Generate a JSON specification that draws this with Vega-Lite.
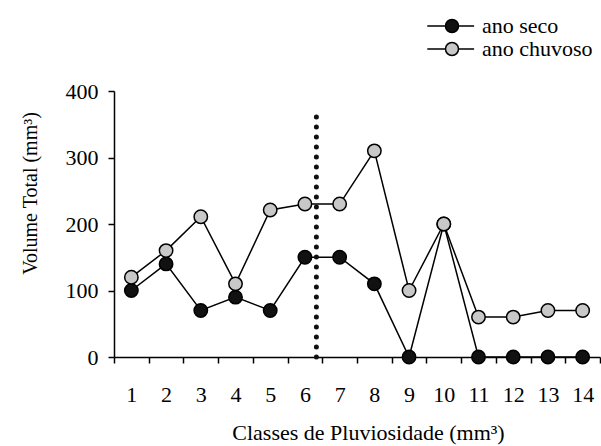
{
  "$schema": "https://vega.github.io/schema/vega-lite/v6.json",
  "width": 486,
  "height": 266,
  "autosize": {"type": "none"},
  "padding": {"left": 114, "top": 91, "right": 1, "bottom": 89},
  "background": "white",
  "config": {
    "view": {"stroke": null},
    "font": "Liberation Serif",
    "axis": {
      "labelFont": "Liberation Serif",
      "labelFontSize": 22,
      "labelColor": "black",
      "titleFont": "Liberation Serif",
      "titleFontSize": 22,
      "titleFontWeight": "normal",
      "titleColor": "black",
      "domainColor": "black",
      "domainWidth": 1.5,
      "tickColor": "black",
      "tickWidth": 1.5,
      "tickSize": 6,
      "grid": false
    },
    "legend": {
      "labelFont": "Liberation Serif",
      "labelFontSize": 22,
      "labelColor": "black"
    }
  },
  "datasets": {
    "series": [
      {"classe": 1, "valor": 100, "serie": "ano seco"},
      {"classe": 2, "valor": 140, "serie": "ano seco"},
      {"classe": 3, "valor": 70, "serie": "ano seco"},
      {"classe": 4, "valor": 90, "serie": "ano seco"},
      {"classe": 5, "valor": 70, "serie": "ano seco"},
      {"classe": 6, "valor": 150, "serie": "ano seco"},
      {"classe": 7, "valor": 150, "serie": "ano seco"},
      {"classe": 8, "valor": 110, "serie": "ano seco"},
      {"classe": 9, "valor": 0, "serie": "ano seco"},
      {"classe": 10, "valor": 200, "serie": "ano seco"},
      {"classe": 11, "valor": 0, "serie": "ano seco"},
      {"classe": 12, "valor": 0, "serie": "ano seco"},
      {"classe": 13, "valor": 0, "serie": "ano seco"},
      {"classe": 14, "valor": 0, "serie": "ano seco"},
      {"classe": 1, "valor": 120, "serie": "ano chuvoso"},
      {"classe": 2, "valor": 160, "serie": "ano chuvoso"},
      {"classe": 3, "valor": 211, "serie": "ano chuvoso"},
      {"classe": 4, "valor": 110, "serie": "ano chuvoso"},
      {"classe": 5, "valor": 221, "serie": "ano chuvoso"},
      {"classe": 6, "valor": 230, "serie": "ano chuvoso"},
      {"classe": 7, "valor": 230, "serie": "ano chuvoso"},
      {"classe": 8, "valor": 310, "serie": "ano chuvoso"},
      {"classe": 9, "valor": 100, "serie": "ano chuvoso"},
      {"classe": 10, "valor": 200, "serie": "ano chuvoso"},
      {"classe": 11, "valor": 60, "serie": "ano chuvoso"},
      {"classe": 12, "valor": 60, "serie": "ano chuvoso"},
      {"classe": 13, "valor": 70, "serie": "ano chuvoso"},
      {"classe": 14, "valor": 70, "serie": "ano chuvoso"}
    ],
    "divisor": [
      {"x": 6.33, "y0": 0, "y1": 372}
    ]
  },
  "layer": [
    {
      "data": {"name": "series"},
      "encoding": {
        "x": {
          "field": "classe",
          "type": "ordinal",
          "scale": {"domain": [1,2,3,4,5,6,7,8,9,10,11,12,13,14], "paddingInner": 0, "paddingOuter": 0},
          "axis": {
            "title": "Classes de Pluviosidade (mm³)",
            "tickBand": "extent",
            "labelAngle": 0,
            "labelPadding": 21,
            "labelFont": "Liberation Serif",
            "titleFont": "Liberation Serif",
            "titleX": 254,
            "titleY": 82,
            "titleAlign": "center",
            "titleBaseline": "alphabetic"
          }
        },
        "y": {
          "field": "valor",
          "type": "quantitative",
          "scale": {"domain": [0, 400], "nice": false},
          "axis": {
            "title": "Volume Total (mm³)",
            "values": [0, 100, 200, 300, 400],
            "labelPadding": 10,
            "labelFont": "Liberation Serif",
            "titleFont": "Liberation Serif",
            "titleFontSize": 20,
            "titleX": -84,
            "titleY": 102,
            "titleAlign": "center",
            "titleBaseline": "middle"
          }
        }
      },
      "layer": [
        {
          "mark": {"type": "line", "color": "black", "strokeWidth": 1.5},
          "encoding": {"detail": {"field": "serie"}}
        },
        {
          "mark": {"type": "point", "filled": true, "size": 180, "stroke": "black", "strokeWidth": 1.5, "opacity": 1},
          "encoding": {
            "fill": {
              "field": "serie",
              "type": "nominal",
              "scale": {"domain": ["ano seco", "ano chuvoso"], "range": ["#111111", "#c8c8c8"]},
              "legend": {
                "title": null,
                "orient": "none",
                "legendX": 327,
                "legendY": -76,
                "padding": 0,
                "labelFont": "Liberation Serif",
                "labelFontSize": 22,
                "symbolType": "M-3.8,0H-1M1,0H3.4M-1,0A1,1,0,1,1,1,0A1,1,0,1,1,-1,0Z",
                "symbolSize": 169,
                "symbolStrokeColor": "black",
                "symbolStrokeWidth": 1.5,
                "symbolOpacity": 1,
                "labelOffset": 19,
                "rowPadding": 1
              }
            }
          }
        }
      ]
    },
    {
      "data": {"name": "divisor"},
      "mark": {"type": "rule", "strokeDash": [0.1, 9.9], "strokeCap": "round", "strokeWidth": 5, "color": "#111111"},
      "encoding": {
        "x": {"field": "x", "type": "quantitative", "scale": {"domain": [0.5, 14.5], "nice": false, "zero": false}, "axis": null},
        "y": {"field": "y0", "type": "quantitative"},
        "y2": {"field": "y1"}
      }
    }
  ],
  "resolve": {"scale": {"x": "independent"}}
}
